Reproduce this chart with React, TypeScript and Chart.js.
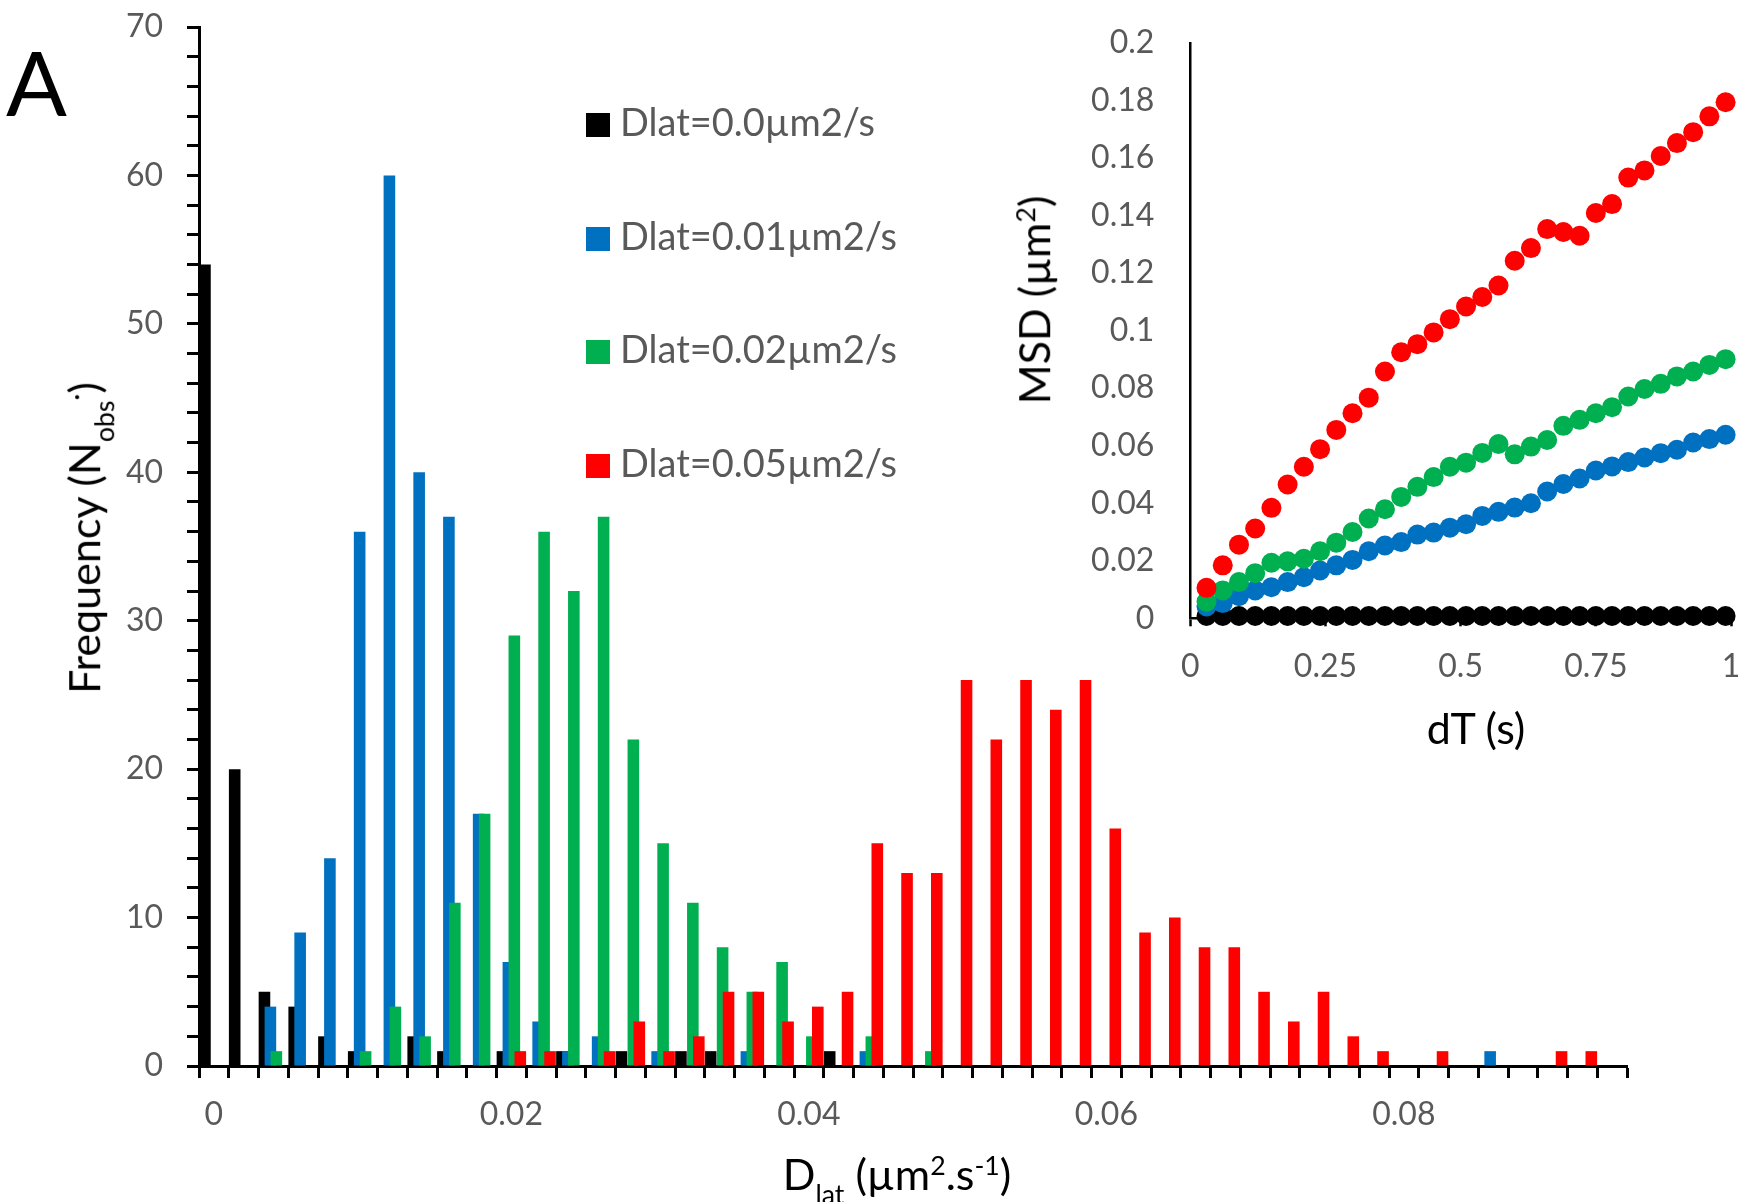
import React, { useEffect, useRef } from "react";
import { Chart, registerables } from "chart.js";

Chart.register(...registerables);

// ---------- Histogram data (bins of 0.002 µm²/s) ----------
const binLabels = [
  "0", "0.002", "0.004", "0.006", "0.008", "0.01", "0.012", "0.014", "0.016", "0.018",
  "0.02", "0.022", "0.024", "0.026", "0.028", "0.03", "0.032", "0.034", "0.036", "0.038",
  "0.04", "0.042", "0.044", "0.046", "0.048", "0.05", "0.052", "0.054", "0.056", "0.058",
  "0.06", "0.062", "0.064", "0.066", "0.068", "0.07", "0.072", "0.074", "0.076", "0.078",
  "0.08", "0.082", "0.084", "0.086", "0.088", "0.09", "0.092", "0.094",
];
const xTickLabels = ["0", "0.02", "0.04", "0.06", "0.08"];

const countsD000 = [
  54, 20, 5, 4, 2, 1, 0, 2, 1, 0,
  1, 0, 1, 0, 1, 0, 1, 1, 0, 0,
  0, 1, 0, 0, 0, 0, 0, 0, 0, 0,
  0, 0, 0, 0, 0, 0, 0, 0, 0, 0,
  0, 0, 0, 0, 0, 0, 0, 0,
];
const countsD001 = [
  0, 0, 4, 9, 14, 36, 60, 40, 37, 17,
  7, 3, 1, 2, 0, 1, 0, 0, 1, 0,
  0, 0, 1, 0, 0, 0, 0, 0, 0, 0,
  0, 0, 0, 0, 0, 0, 0, 0, 0, 0,
  0, 0, 0, 1, 0, 0, 0, 0,
];
const countsD002 = [
  0, 0, 1, 0, 0, 1, 4, 2, 11, 17,
  29, 36, 32, 37, 22, 15, 11, 8, 5, 7,
  2, 0, 2, 0, 1, 0, 0, 0, 0, 0,
  0, 0, 0, 0, 0, 0, 0, 0, 0, 0,
  0, 0, 0, 0, 0, 0, 0, 0,
];
const countsD005 = [
  0, 0, 0, 0, 0, 0, 0, 0, 0, 0,
  1, 1, 0, 1, 3, 1, 2, 5, 5, 3,
  4, 5, 15, 13, 13, 26, 22, 26, 24, 26,
  16, 9, 10, 8, 8, 5, 3, 5, 2, 1,
  0, 1, 0, 0, 0, 1, 1, 0,
];

const seriesLabels = ["Dlat=0.0µm2/s", "Dlat=0.01µm2/s", "Dlat=0.02µm2/s", "Dlat=0.05µm2/s"];
const seriesColors = ["#000000", "#0070C0", "#00B050", "#FF0000"];

// ---------- Inset MSD data ----------
const dT = [
  0.03, 0.06, 0.09, 0.12, 0.15, 0.18, 0.21, 0.24, 0.27, 0.3, 0.33,
  0.36, 0.39, 0.42, 0.45, 0.48, 0.51, 0.54, 0.57, 0.6, 0.63, 0.66,
  0.69, 0.72, 0.75, 0.78, 0.81, 0.84, 0.87, 0.9, 0.93, 0.96, 0.99,
];
const msdD000 = [
  0.0008, 0.0008, 0.0008, 0.0008, 0.0008, 0.0008, 0.0008, 0.0008, 0.0008, 0.0008, 0.0008,
  0.0008, 0.0008, 0.0008, 0.0008, 0.0008, 0.0008, 0.0008, 0.0008, 0.0008, 0.0008, 0.0008,
  0.0008, 0.0008, 0.0008, 0.0008, 0.0008, 0.0008, 0.0008, 0.0008, 0.0008, 0.0008, 0.0008,
];
const msdD001 = [
  0.0041, 0.0053, 0.0077, 0.0097, 0.0108, 0.0126, 0.0143, 0.0166, 0.0184, 0.0203, 0.0233,
  0.0253, 0.0265, 0.0291, 0.0298, 0.0315, 0.0327, 0.0356, 0.037, 0.0385, 0.04, 0.0441,
  0.0467, 0.0486, 0.0514, 0.0528, 0.0543, 0.0559, 0.0574, 0.0586, 0.0611, 0.0623, 0.0638,
];
const msdD002 = [
  0.0058, 0.0097, 0.0126, 0.0157, 0.0193, 0.0198, 0.0207, 0.0233, 0.0263, 0.03, 0.0347,
  0.0379, 0.0422, 0.0457, 0.0491, 0.0527, 0.0541, 0.0575, 0.0606, 0.057, 0.0597, 0.062,
  0.0669, 0.069, 0.0713, 0.0734, 0.0771, 0.0797, 0.0815, 0.0841, 0.0858, 0.0881, 0.0901,
];
const msdD005 = [
  0.0106, 0.0184, 0.0256, 0.0312, 0.0384, 0.0465, 0.0527, 0.0588, 0.0655, 0.0713, 0.0767,
  0.0858, 0.0925, 0.0953, 0.0994, 0.104, 0.1084, 0.1117, 0.1157, 0.1243, 0.1287, 0.1353,
  0.1343, 0.133, 0.1409, 0.144, 0.1532, 0.1557, 0.1607, 0.1652, 0.169, 0.1745, 0.1794,
];

const FONT = "Lato, 'Open Sans', sans-serif";
const GRAY = "#595959";

// draw datasets in index order so later series lie on top (Excel style)
const drawInIndexOrder = {
  id: "drawInIndexOrder",
  beforeDatasetDraw: () => false,
  afterDatasetsDraw(chart: any) {
    for (let i = 0; i < chart.data.datasets.length; i++) {
      const meta = chart.getDatasetMeta(i);
      if (meta.visible) meta.controller.draw();
    }
  },
};

function fixBox(size: { width?: number; height?: number }) {
  return (s: any) => {
    if (size.width !== undefined) s.width = size.width;
    if (size.height !== undefined) s.height = size.height;
    s.paddingTop = 0;
    s.paddingBottom = 0;
    s.paddingLeft = 0;
    s.paddingRight = 0;
  };
}

export default function App() {
  const mainRef = useRef<HTMLCanvasElement>(null);
  const insetRef = useRef<HTMLCanvasElement>(null);

  useEffect(() => {
    const histSeries = [countsD000, countsD001, countsD002, countsD005];
    const main = new Chart(mainRef.current as HTMLCanvasElement, {
      type: "bar",
      data: {
        labels: binLabels,
        datasets: histSeries.map((d, i) => ({
          label: seriesLabels[i],
          data: d,
          backgroundColor: seriesColors[i],
          borderWidth: 0,
          categoryPercentage: 0.8,
          barPercentage: 1.95,
        })),
      },
      options: {
        responsive: false,
        animation: false,
        devicePixelRatio: 1,
        events: [],
        layout: { padding: { left: 0, top: 27, right: 132, bottom: 0 } },
        plugins: { legend: { display: false }, tooltip: { enabled: false } },
        scales: {
          x: {
            type: "category",
            offset: true,
            grid: {
              offset: true,
              drawOnChartArea: false,
              drawTicks: true,
              tickLength: 12,
              tickWidth: 3,
              tickColor: "#000",
            },
            border: { display: true, color: "#000", width: 3 },
            ticks: {
              autoSkip: false,
              maxRotation: 0,
              minRotation: 0,
              padding: 17,
              color: GRAY,
              font: { family: FONT, size: 32 },
              callback: (_v: any, i: number) =>
                xTickLabels.includes(binLabels[i]) ? binLabels[i] : "",
            },
            afterFit: fixBox({ height: 136 }),
          },
          y: {
            min: 0,
            max: 70,
            grid: {
              drawOnChartArea: false,
              drawTicks: true,
              tickLength: 12,
              tickWidth: 3,
              tickColor: "#000",
            },
            border: { display: true, color: "#000", width: 3 },
            ticks: {
              stepSize: 2,
              autoSkip: false,
              maxTicksLimit: 100,
              padding: 24,
              color: GRAY,
              font: { family: FONT, size: 32 },
              callback: (v: any) => (Number(v) % 10 === 0 ? String(v) : ""),
            },
            afterFit: fixBox({ width: 199 }),
          },
        },
      },
      plugins: [drawInIndexOrder],
    } as any);

    const msdSeries = [msdD005, msdD002, msdD001, msdD000];
    const msdColors = [seriesColors[3], seriesColors[2], seriesColors[1], seriesColors[0]];
    const msdLabels = [seriesLabels[3], seriesLabels[2], seriesLabels[1], seriesLabels[0]];
    const inset = new Chart(insetRef.current as HTMLCanvasElement, {
      type: "scatter",
      data: {
        datasets: msdSeries.map((s, i) => ({
          label: msdLabels[i],
          data: dT.map((x, j) => ({ x, y: s[j] })),
          backgroundColor: msdColors[i],
          borderColor: msdColors[i],
          pointRadius: 10,
          pointBorderWidth: 0,
          clip: false,
        })),
      },
      options: {
        responsive: false,
        animation: false,
        devicePixelRatio: 1,
        events: [],
        layout: { padding: { left: 0, top: 43, right: 28, bottom: 0 } },
        plugins: { legend: { display: false }, tooltip: { enabled: false } },
        scales: {
          x: {
            type: "linear",
            min: 0,
            max: 1,
            grid: {
              drawOnChartArea: false,
              drawTicks: true,
              tickLength: 8,
              tickWidth: 2.5,
              tickColor: "#000",
            },
            border: { display: true, color: "#000", width: 2.5 },
            ticks: {
              stepSize: 0.25,
              autoSkip: false,
              padding: 21,
              color: GRAY,
              font: { family: FONT, size: 32 },
              callback: (v: any) => String(Number(Number(v).toFixed(2))),
            },
            afterFit: fixBox({ height: 141.7 }),
          },
          y: {
            min: 0,
            max: 0.2,
            grid: { drawOnChartArea: false, drawTicks: false },
            border: { display: true, color: "#000", width: 2.5 },
            ticks: {
              stepSize: 0.02,
              autoSkip: false,
              maxTicksLimit: 100,
              padding: 36,
              color: GRAY,
              font: { family: FONT, size: 32 },
              callback: (v: any) => String(Number(Number(v).toFixed(2))),
            },
            afterFit: fixBox({ width: 190.3 }),
          },
        },
      },
    } as any);

    return () => {
      main.destroy();
      inset.destroy();
    };
  }, []);

  const supStyle: React.CSSProperties = { fontSize: "0.62em", verticalAlign: "super", lineHeight: 0 };
  const subStyle: React.CSSProperties = { fontSize: "0.62em", verticalAlign: "sub", lineHeight: 0, position: "relative", top: "0.15em" };
  const legendBaselines = [136, 250, 363, 477];

  return (
    <div
      style={{
        position: "fixed",
        left: 0,
        top: 0,
        width: 1759,
        height: 1202,
        background: "#fff",
        overflow: "hidden",
        fontFamily: FONT,
      }}
    >
      <canvas
        ref={mainRef}
        width={1759}
        height={1202}
        style={{ position: "absolute", left: 0, top: 0, width: 1759, height: 1202 }}
      />
      <canvas
        ref={insetRef}
        width={759}
        height={760}
        style={{ position: "absolute", left: 1000, top: 0, width: 759, height: 760 }}
      />

      {/* panel letter */}
      <div style={{ position: "absolute", left: 6, top: 27, fontSize: 90, lineHeight: 1.2, color: "#000" }}>A</div>

      {/* legend */}
      {seriesLabels.map((lab, i) => (
        <React.Fragment key={lab}>
          <div
            style={{
              position: "absolute",
              left: 586,
              top: legendBaselines[i] - 23,
              width: 24,
              height: 24,
              background: seriesColors[i],
            }}
          />
          <div
            style={{
              position: "absolute",
              left: 620,
              top: legendBaselines[i] - 37.5,
              fontSize: 38,
              lineHeight: 1.2,
              color: GRAY,
              whiteSpace: "nowrap",
            }}
          >
            {lab}
          </div>
        </React.Fragment>
      ))}

      {/* main x title */}
      <div
        style={{
          position: "absolute",
          left: 897,
          top: 1148,
          transform: "translateX(-50%)",
          fontSize: 43,
          lineHeight: 1.2,
          color: "#000",
          whiteSpace: "nowrap",
        }}
      >
        D<span style={subStyle}>lat</span> (µm<span style={supStyle}>2</span>.s<span style={supStyle}>-1</span>)
      </div>

      {/* main y title */}
      <div
        style={{
          position: "absolute",
          left: 84,
          top: 538,
          transform: "translate(-50%, -50%) rotate(-90deg)",
          fontSize: 43,
          lineHeight: 1.2,
          color: "#000",
          whiteSpace: "nowrap",
        }}
      >
        Frequency (N<span style={subStyle}>obs</span><span style={supStyle}>·</span>)
      </div>

      {/* inset y title */}
      <div
        style={{
          position: "absolute",
          left: 1034,
          top: 300,
          transform: "translate(-50%, -50%) rotate(-90deg)",
          fontSize: 43,
          lineHeight: 1.2,
          color: "#000",
          whiteSpace: "nowrap",
        }}
      >
        MSD (µm<span style={supStyle}>2</span>)
      </div>

      {/* inset x title */}
      <div
        style={{
          position: "absolute",
          left: 1476,
          top: 702,
          transform: "translateX(-50%)",
          fontSize: 43,
          lineHeight: 1.2,
          color: "#000",
          whiteSpace: "nowrap",
        }}
      >
        dT (s)
      </div>
    </div>
  );
}
